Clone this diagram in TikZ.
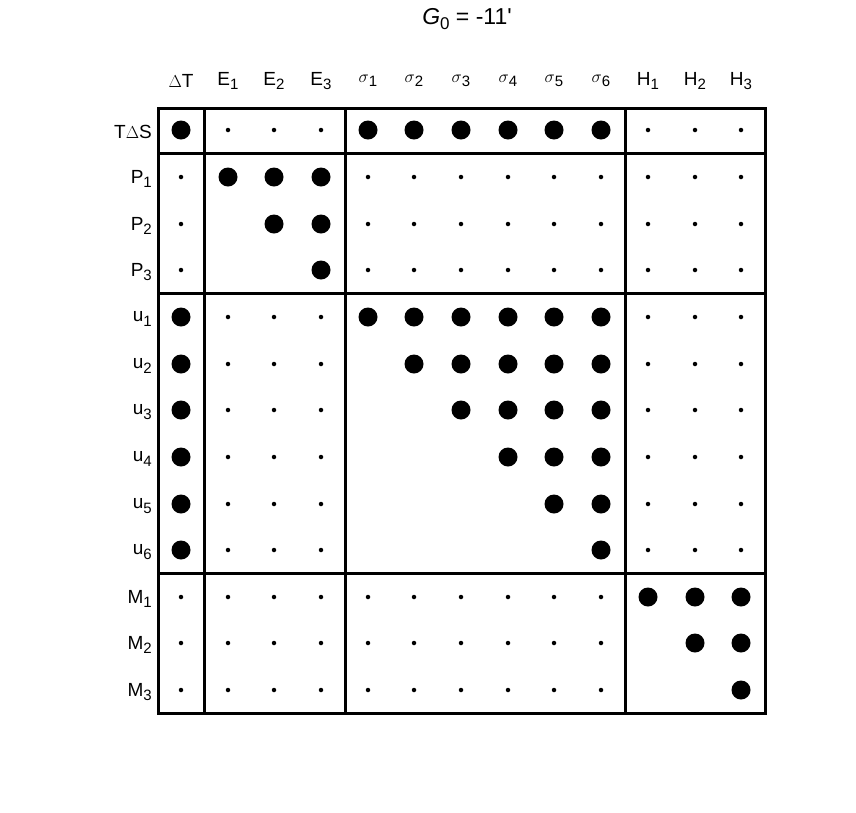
\documentclass[tikz,border=0pt]{standalone}
\usepackage{fontspec}
\setmainfont{Liberation Sans}
\newcommand{\sbx}[1]{\raisebox{-0.45ex}{\fontsize{15}{15}\selectfont #1}}
\begin{document}
\begin{tikzpicture}[x=1pt,y=-1pt,
  lbl/.style={font=\fontsize{19}{22}\selectfont, inner sep=0pt},
  big/.style={circle, fill=black, minimum size=19pt, inner sep=0pt},
  small/.style={circle, fill=black, minimum size=4.5pt, inner sep=0pt},
  frame/.style={line width=3pt}]
\useasboundingbox (0,0) rectangle (856,812);
\node[font=\fontsize{23}{26}\selectfont] (title) at (467,19) {\textit{G}\raisebox{-0.45ex}{\fontsize{17}{17}\selectfont 0} = -11\textquotesingle};
\def\cx#1{\ifcase#1 181\or 228\or 274\or 321\or 368\or 414\or 461\or 508\or 554\or 601\or 648\or 695\or 741\fi}
\def\ry#1{\ifcase#1 130\or 177\or 224\or 270\or 317\or 364\or 410\or 457\or 504\or 550\or 597\or 643\or 690\fi}
\foreach \t [count=\i from 0] in {$\Delta$T, E\sbx{1}, E\sbx{2}, E\sbx{3},
  $\sigma$\sbx{1}, $\sigma$\sbx{2}, $\sigma$\sbx{3}, $\sigma$\sbx{4}, $\sigma$\sbx{5}, $\sigma$\sbx{6},
  H\sbx{1}, H\sbx{2}, H\sbx{3}}
  \node[lbl] (col\i) at (\cx{\i},81) {\t};
\foreach \t [count=\i from 0] in {T$\Delta$S, P\sbx{1}, P\sbx{2}, P\sbx{3},
  u\sbx{1}, u\sbx{2}, u\sbx{3}, u\sbx{4}, u\sbx{5}, u\sbx{6},
  M\sbx{1}, M\sbx{2}, M\sbx{3}}
  \node[lbl, anchor=east] (row\i) at (152,\ry{\i}+2) {\t};
\foreach \r in {0,...,12}{
  \foreach \c in {0,...,12}{
    \pgfmathtruncatemacro{\v}{
      \r==0 ? ((\c==0 || (\c>=4 && \c<=9)) ? 2 : 1) :
      (\r<=3 ? ((\c>=1 && \c<=3) ? (\c>=\r ? 2 : 0) : 1) :
      (\r<=9 ? (\c==0 ? 2 : ((\c>=4 && \c<=9) ? (\c-3>=\r-3 ? 2 : 0) : 1)) :
      ((\c>=10) ? (\c>=\r ? 2 : 0) : 1)))}
    \ifnum\v=2 \node[big] (d\r-\c) at (\cx{\c},\ry{\r}) {};\fi
    \ifnum\v=1 \node[small] (d\r-\c) at (\cx{\c},\ry{\r}) {};\fi
  }
}
\draw[frame] (158,108) rectangle (765,713);
\draw[frame] (204,108) -- (204,713);
\draw[frame] (345,108) -- (345,713);
\draw[frame] (625,108) -- (625,713);
\draw[frame] (158,153) -- (765,153);
\draw[frame] (158,293) -- (765,293);
\draw[frame] (158,573) -- (765,573);
\end{tikzpicture}
\end{document}
